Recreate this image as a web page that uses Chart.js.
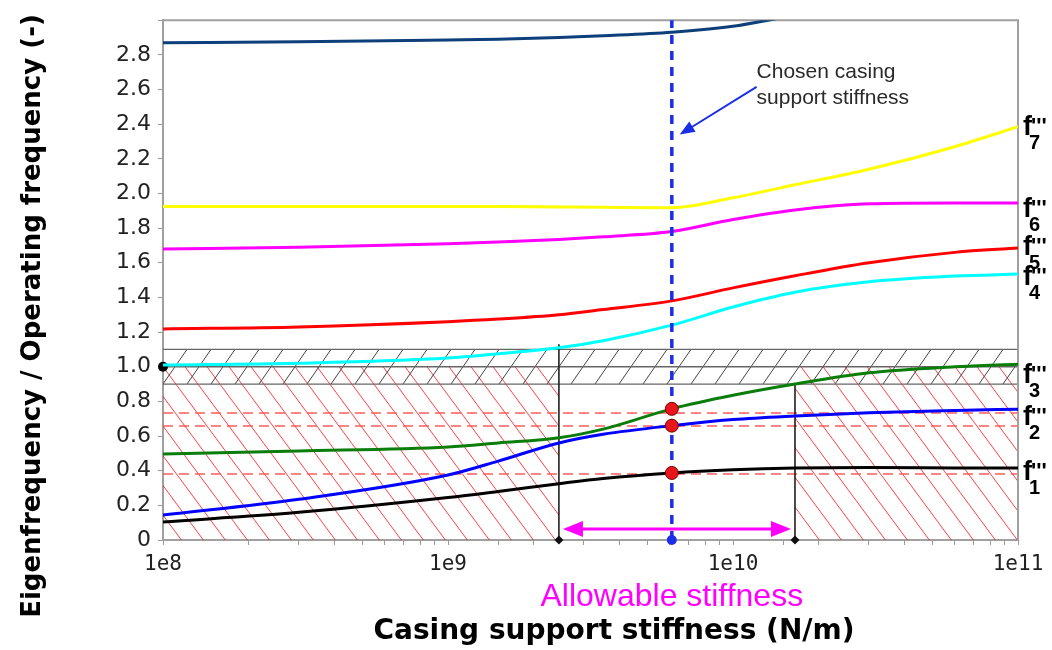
<!DOCTYPE html>
<html>
<head>
<meta charset="utf-8">
<script src="https://cdn.jsdelivr.net/npm/chart.js@4.4.1/dist/chart.umd.min.js"></script>
<style>
  html, body { margin: 0; padding: 0; background: #fff; }
</style>
</head>
<body>
<canvas id="chart" width="1052" height="650"></canvas>
<script>
// casing support stiffness (N/m) on a log axis
const stiffness = [1e8, 3e8, 1e9, 1.5e9, 2.45e9, 3.5e9, 6.1e9, 1e10, 1.65e10, 3e10, 6e10, 1e11];

// eigenfrequency / operating frequency per mode
const f1 = [0.104, 0.16, 0.245, 0.28, 0.325, 0.355, 0.387, 0.405, 0.415, 0.418, 0.416, 0.415];
const f2 = [0.144, 0.235, 0.375, 0.455, 0.56, 0.61, 0.66, 0.695, 0.716, 0.735, 0.748, 0.755];
const f3 = [0.497, 0.514, 0.537, 0.56, 0.59, 0.64, 0.757, 0.835, 0.9, 0.965, 1.0, 1.015];
const f4 = [1.01, 1.02, 1.05, 1.075, 1.11, 1.15, 1.24, 1.345, 1.43, 1.49, 1.523, 1.535];
const f5 = [1.218, 1.23, 1.26, 1.275, 1.3, 1.33, 1.38, 1.455, 1.525, 1.6, 1.66, 1.685];
const f6 = [1.68, 1.69, 1.71, 1.72, 1.735, 1.75, 1.78, 1.85, 1.905, 1.94, 1.945, 1.945];
const f7 = [1.925, 1.925, 1.925, 1.925, 1.922, 1.92, 1.918, 1.975, 2.05, 2.14, 2.27, 2.385];
const f8 = [2.87, 2.875, 2.886, 2.89, 2.9, 2.91, 2.93, 2.965, 3.03, null, null, null];

const modes = [f1, f2, f3, f4, f5, f6, f7, f8];
const modeColors = ['#000000', '#0000ff', '#0a7d0a', '#00ffff', '#ff0000', '#ff00ff', '#ffff00', '#0d3f7a'];
// baseline shift (px) of each right-hand label below its curve end
const labelShift = [12, 16, 19, 11, 7, 14, 8];

const chosenStiffness = 6.1e9;
const chosenValues = [0.387, 0.66, 0.757];
const allowableRange = [2.45e9, 1.65e10];
const allowableTops = [1.13, 0.9];
const bandLimits = [0.9, 1.0, 1.1];
const limitLines = [0.381, 0.658, 0.733];
const hatchTop = 1.0;
const arrowLevel = 0.064;
const noteTail = [1.21e10, 2.615];
const noteHead = [6.5e9, 2.34];

function hatch(ctx, r, spacing, dx, color, forward, originX) {
  ctx.save();
  ctx.beginPath();
  ctx.rect(r.l, r.t, r.r - r.l, r.b - r.t);
  ctx.clip();
  ctx.strokeStyle = color;
  ctx.lineWidth = 1;
  ctx.beginPath();
  let x0 = originX - Math.ceil((originX - (r.l - dx)) / spacing) * spacing;
  for (let xx = x0; xx < r.r + spacing; xx += spacing) {
    if (forward) { ctx.moveTo(xx, r.b); ctx.lineTo(xx + dx, r.t); }
    else { ctx.moveTo(xx, r.t); ctx.lineTo(xx + dx, r.b); }
  }
  ctx.stroke();
  ctx.restore();
}

function arrowHead(ctx, tipX, tipY, ang, len, half) {
  ctx.beginPath();
  ctx.moveTo(tipX, tipY);
  ctx.lineTo(tipX - len * Math.cos(ang) + half * Math.sin(ang), tipY - len * Math.sin(ang) - half * Math.cos(ang));
  ctx.lineTo(tipX - len * Math.cos(ang) - half * Math.sin(ang), tipY - len * Math.sin(ang) + half * Math.cos(ang));
  ctx.closePath();
  ctx.fill();
}

const decor = {
  id: 'decor',
  beforeDatasetsDraw(chart) {
    const { ctx, chartArea: a, scales: { x, y } } = chart;
    const y0 = y.getPixelForValue(0);
    const yRed = y.getPixelForValue(hatchTop);
    const xLo = x.getPixelForValue(allowableRange[0]);
    const xHi = x.getPixelForValue(allowableRange[1]);

    // forbidden zones outside the allowable range
    const redDx = (y0 - yRed) / 1.35;
    hatch(ctx, { l: a.left, t: yRed, r: xLo, b: y0 }, 22, redDx, 'rgba(255,0,0,0.75)', false, a.left);
    hatch(ctx, { l: xHi, t: yRed, r: a.right, b: y0 }, 22, redDx, 'rgba(255,0,0,0.75)', false, a.left);

    // band around the operating frequency
    const bLow = y.getPixelForValue(bandLimits[0]);
    const bHigh = y.getPixelForValue(bandLimits[2]);
    hatch(ctx, { l: a.left, t: bHigh, r: a.right, b: bLow }, 24, 24, '#444', true, a.left);
    ctx.save();
    ctx.strokeStyle = '#666';
    ctx.lineWidth = 1.3;
    bandLimits.forEach(v => {
      const py = y.getPixelForValue(v);
      ctx.beginPath();
      ctx.moveTo(a.left, py);
      ctx.lineTo(a.right, py);
      ctx.stroke();
    });

    // dashed limit levels
    ctx.strokeStyle = 'rgba(255,80,80,0.7)';
    ctx.lineWidth = 2;
    ctx.setLineDash([10, 6]);
    limitLines.forEach(v => {
      const py = y.getPixelForValue(v);
      ctx.beginPath();
      ctx.moveTo(a.left, py);
      ctx.lineTo(a.right, py);
      ctx.stroke();
    });
    ctx.setLineDash([]);

    // frame top / right
    ctx.strokeStyle = '#a0a0a0';
    ctx.lineWidth = 2;
    ctx.beginPath();
    ctx.moveTo(a.left, a.top);
    ctx.lineTo(a.right, a.top);
    ctx.lineTo(a.right, a.bottom);
    ctx.stroke();
    ctx.restore();
  },
  afterDatasetsDraw(chart) {
    const { ctx, chartArea: a, scales: { x, y } } = chart;
    ctx.save();

    // allowable range double arrow
    const xLo = x.getPixelForValue(allowableRange[0]);
    const xHi = x.getPixelForValue(allowableRange[1]);
    const ay = y.getPixelForValue(arrowLevel);
    ctx.strokeStyle = '#ff00ff';
    ctx.fillStyle = '#ff00ff';
    ctx.lineWidth = 3;
    ctx.beginPath();
    ctx.moveTo(xLo + 15, ay);
    ctx.lineTo(xHi - 15, ay);
    ctx.stroke();
    arrowHead(ctx, xLo + 4, ay, Math.PI, 20, 8);
    arrowHead(ctx, xHi - 4, ay, 0, 20, 8);

    // note arrow
    const tx = x.getPixelForValue(noteTail[0]), ty = y.getPixelForValue(noteTail[1]);
    const hx = x.getPixelForValue(noteHead[0]), hy = y.getPixelForValue(noteHead[1]);
    const ang = Math.atan2(hy - ty, hx - tx);
    ctx.strokeStyle = '#1a2ee8';
    ctx.fillStyle = '#1a2ee8';
    ctx.lineWidth = 2;
    ctx.beginPath();
    ctx.moveTo(tx, ty);
    ctx.lineTo(hx - 12 * Math.cos(ang), hy - 12 * Math.sin(ang));
    ctx.stroke();
    arrowHead(ctx, hx, hy, ang, 15, 6);

    ctx.fillStyle = '#2a2a2a';
    ctx.font = '21px "Liberation Sans", Arial, sans-serif';
    ctx.textAlign = 'left';
    ctx.textBaseline = 'middle';
    ctx.fillText('Chosen casing', tx, ty - 15);
    ctx.fillText('support stiffness', tx, ty + 11);

    // mode labels at the right end of each curve
    for (let i = 0; i < 7; i++) {
      const meta = chart.getDatasetMeta(modeIndex[i]);
      const last = meta.data[meta.data.length - 1];
      const lx = a.right + 5;
      const base = last.y + labelShift[i];
      ctx.fillStyle = '#000';
      ctx.textBaseline = 'alphabetic';
      ctx.font = 'bold 27px "Liberation Sans", Arial, sans-serif';
      ctx.fillText('f', lx, base);
      ctx.font = 'bold 22px "Liberation Sans", Arial, sans-serif';
      ctx.fillText("'''", lx + 8, base - 2);
      ctx.font = 'bold 20px "Liberation Sans", Arial, sans-serif';
      ctx.fillText(String(i + 1), lx + 6, base + 14);
    }
    ctx.restore();
  },
  afterDraw(chart) {
    const { ctx, scales: { x } } = chart;
    ctx.save();
    ctx.textAlign = 'center';
    ctx.textBaseline = 'middle';
    ctx.fillStyle = '#ff00ff';
    ctx.font = '32px "Liberation Sans", Arial, sans-serif';
    ctx.fillText('Allowable stiffness', x.getPixelForValue(chosenStiffness), 597);

    ctx.fillStyle = '#000';
    ctx.font = 'bold 28px "DejaVu Sans", sans-serif';
    ctx.fillText('Casing support stiffness (N/m)', 614, 632);

    ctx.translate(33, 316);
    ctx.rotate(-Math.PI / 2);
    ctx.font = 'bold 26px "DejaVu Sans", sans-serif';
    ctx.fillText('Eigenfrequency / Operating frequency (-)', 0, 0);
    ctx.restore();
  }
};

const datasets = [];
// red markers at the chosen stiffness
datasets.push({
  data: chosenValues.map(v => ({ x: chosenStiffness, y: v })),
  showLine: false,
  pointRadius: 6.5,
  pointBackgroundColor: '#e8161b',
  pointBorderColor: '#7a0000',
  pointBorderWidth: 1,
  clip: false,
});
// chosen stiffness line
datasets.push({
  data: [{ x: chosenStiffness, y: 0 }, { x: chosenStiffness, y: 3 }],
  borderColor: '#1a2ee8',
  borderWidth: 3.5,
  borderDash: [9, 7],
  pointRadius: [5, 0],
  pointBackgroundColor: '#1a2ee8',
  pointBorderWidth: 0,
  clip: false,
});
const modeIndex = [];
modes.forEach((vals, i) => {
  modeIndex.push(datasets.length);
  datasets.push({
    label: 'f' + (i + 1),
    data: stiffness.map((s, j) => ({ x: s, y: vals[j] })).filter(p => p.y !== null),
    borderColor: modeColors[i],
    borderWidth: 3,
    pointRadius: 0,
    cubicInterpolationMode: 'monotone',
    clip: 0,
  });
});
// limits of the allowable range
allowableRange.forEach((s, i) => {
  datasets.push({
    data: [{ x: s, y: 0 }, { x: s, y: allowableTops[i] }],
    borderColor: '#111',
    borderWidth: 1.5,
    pointRadius: [4.5, 0],
    pointStyle: 'rectRot',
    pointBackgroundColor: '#111',
    pointBorderWidth: 0,
    clip: false,
  });
});
datasets.push({
  data: [{ x: 1e8, y: 1.0 }],
  showLine: false,
  pointRadius: 5,
  pointBackgroundColor: '#000',
  pointBorderWidth: 0,
  clip: false,
});

new Chart(document.getElementById('chart'), {
  type: 'line',
  data: { datasets },
  plugins: [decor],
  options: {
    responsive: false,
    animation: false,
    devicePixelRatio: 1,
    layout: { padding: { top: 19, right: 34, left: 0, bottom: 0 } },
    plugins: { legend: { display: false }, tooltip: { enabled: false } },
    scales: {
      x: {
        type: 'logarithmic',
        min: 1e8,
        max: 1e11,
        afterFit: (s) => { s.height = 110; },
        grid: { drawOnChartArea: false, tickLength: 5, color: '#999' },
        border: { color: '#a0a0a0', width: 2 },
        ticks: {
          autoSkip: false,
          maxRotation: 0,
          padding: 7,
          color: '#222',
          font: { family: 'DejaVu Sans Mono', size: 21 },
          callback: (v) => {
            const e = Math.log10(v);
            return Math.abs(e - Math.round(e)) < 1e-9 ? '1e' + Math.round(e) : '';
          },
        },
      },
      y: {
        min: 0,
        max: 3,
        afterFit: (s) => { s.width = 163; },
        grid: { drawOnChartArea: false, tickLength: 5, color: '#999' },
        border: { color: '#a0a0a0', width: 2 },
        ticks: {
          stepSize: 0.2,
          padding: 7,
          color: '#222',
          font: { family: 'DejaVu Sans', size: 22 },
          callback: (v) => (v === 0 ? '0' : v > 2.95 ? '' : v.toFixed(1)),
        },
      },
    },
  },
});
</script>
</body>
</html>
